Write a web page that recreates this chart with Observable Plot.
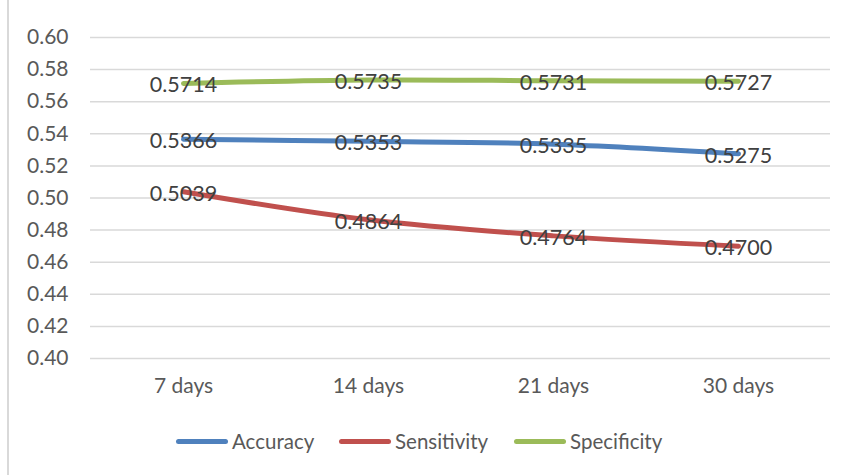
<!DOCTYPE html>
<html>
<head>
<meta charset="utf-8">
<script src="https://cdn.jsdelivr.net/npm/d3@7"></script>
<script src="https://cdn.jsdelivr.net/npm/@observablehq/plot@0.6"></script>
<style>
  html, body { margin: 0; padding: 0; background: #fff; }
  #wrap { position: relative; width: 847px; height: 475px; overflow: hidden; font-family: Lato, "Open Sans", sans-serif; }
  #border { position: absolute; left: 7px; top: 0; width: 2px; height: 475px; background: #d9d9d9; }
  #legend { position: absolute; top: 428px; left: 0; width: 847px; height: 30px; }
  .item { position: absolute; top: 0; display: flex; align-items: center; height: 26px; font-size: 20.5px; color: #595959; }
  .swatch { width: 52px; height: 5px; border-radius: 3px; margin-right: 4px; }
</style>
</head>
<body>
<div id="wrap"><div id="chart"></div><div id="border"></div><div id="legend"></div></div>
<script>
const categories = ["7 days", "14 days", "21 days", "30 days"];
const seriesNames = ["Accuracy", "Sensitivity", "Specificity"];
const accuracy = [0.5366, 0.5353, 0.5335, 0.5275];
const sensitivity = [0.5039, 0.4864, 0.4764, 0.4700];
const specificity = [0.5714, 0.5735, 0.5731, 0.5727];
const colors = ["#4F81BD", "#C0504D", "#9BBB59"];
const yTicks = [0.40, 0.42, 0.44, 0.46, 0.48, 0.50, 0.52, 0.54, 0.56, 0.58, 0.60];

const seriesValues = [accuracy, sensitivity, specificity];
const data = [];
seriesNames.forEach((s, i) => {
  categories.forEach((c, j) => data.push({series: s, cat: c, value: seriesValues[i][j]}));
});

const chart = Plot.plot({
  width: 847,
  height: 415,
  marginLeft: 90,
  marginRight: 17,
  marginTop: 37,
  marginBottom: 57,
  style: {fontFamily: "Lato, 'Open Sans', sans-serif", fontSize: "21px", color: "#595959", background: "#fff"},
  x: {type: "point", domain: categories, padding: 0.5, label: null},
  y: {domain: [0.40, 0.60], label: null},
  color: {domain: seriesNames, range: colors},
  marks: [
    Plot.gridY(yTicks, {stroke: "#d9d9d9", strokeOpacity: 1, strokeWidth: 1.5}),
    Plot.axisY(yTicks, {tickSize: 0, tickPadding: 22, tickFormat: d3.format(".2f"), fill: "#595959", fontSize: 21, label: null}),
    Plot.axisX({tickSize: 0, tickPadding: 20, fill: "#595959", fontSize: 21, label: null}),
    Plot.line(data, {x: "cat", y: "value", z: "series", stroke: "series", strokeWidth: 5, curve: "catmull-rom", strokeLinecap: "round"}),
    Plot.text(data, {x: "cat", y: "value", text: d => d.value.toFixed(4), fill: "#404040", fontSize: 21.5, dy: 2, textAnchor: "middle", lineAnchor: "middle"})
  ]
});
document.getElementById("chart").appendChild(chart);

const legend = document.getElementById("legend");
const lefts = [176, 339, 514];
seriesNames.forEach((s, i) => {
  const it = document.createElement("div");
  it.className = "item";
  it.style.left = lefts[i] + "px";
  const sw = document.createElement("div");
  sw.className = "swatch";
  sw.style.background = colors[i];
  const tx = document.createElement("span");
  tx.textContent = s;
  it.appendChild(sw); it.appendChild(tx);
  legend.appendChild(it);
});
</script>
</body>
</html>
